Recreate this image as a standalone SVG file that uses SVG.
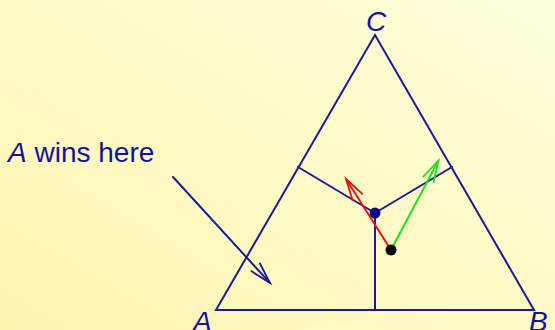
<svg xmlns="http://www.w3.org/2000/svg" width="555" height="330" viewBox="0 0 555 330">
  <defs>
    <linearGradient id="bg" x1="1" y1="0" x2="0" y2="1">
      <stop offset="0" stop-color="#ffffdc"/>
      <stop offset="1" stop-color="#fcf5b0"/>
    </linearGradient>
    <marker id="hBlue" markerUnits="userSpaceOnUse" markerWidth="30" markerHeight="20" viewBox="-24 -10 30 20" refX="0" refY="0" orient="auto">
      <path d="M-22,-6 L0,0 L-22,6" fill="none" stroke="#1c1c8e" stroke-width="1.8"/>
    </marker>
    <marker id="hRed" markerUnits="userSpaceOnUse" markerWidth="30" markerHeight="20" viewBox="-24 -10 30 20" refX="0" refY="0" orient="auto">
      <path d="M-22,-6 L0,0 L-22,6" fill="none" stroke="#ee1111" stroke-width="1.8"/>
    </marker>
    <marker id="hGreen" markerUnits="userSpaceOnUse" markerWidth="30" markerHeight="20" viewBox="-24 -10 30 20" refX="0" refY="0" orient="auto">
      <path d="M-22,-6 L0,0 L-22,6" fill="none" stroke="#22dd22" stroke-width="1.8"/>
    </marker>
  </defs>
  <style>
    .ln { stroke: #1c1c8e; stroke-width: 2; fill: none; stroke-linecap: round; }
    .lbl { font-family: "Liberation Sans", Arial, sans-serif; font-size: 28px; fill: #12129a; }
    .it { font-style: italic; }
  </style>
  <rect width="555" height="330" fill="url(#bg)"/>

  <g id="triangle">
    <polygon class="ln" points="216,310 534,310 375,35" stroke-linejoin="miter"/>
  </g>

  <g id="connectors">
    <line class="ln" x1="375" y1="213" x2="375" y2="310"/>
    <line class="ln" x1="375" y1="213" x2="298" y2="167"/>
    <line class="ln" x1="375" y1="213" x2="452" y2="167"/>
    <line class="ln" x1="173" y1="177" x2="270" y2="283" marker-end="url(#hBlue)"/>
    <line x1="391" y1="250" x2="346" y2="179" stroke="#ee1111" stroke-width="2" marker-end="url(#hRed)"/>
    <line x1="391" y1="250" x2="438.5" y2="160.5" stroke="#22dd22" stroke-width="2" marker-end="url(#hGreen)"/>
  </g>

  <g id="center-point">
    <circle cx="375" cy="213" r="5.5" fill="#0a0a8a"/>
  </g>
  <g id="state-point">
    <circle cx="391" cy="250" r="5.5" fill="#000"/>
  </g>

  <g id="label-C"><text class="lbl it" x="376" y="31" text-anchor="middle">C</text></g>
  <g id="label-A"><text class="lbl it" x="193" y="331">A</text></g>
  <g id="label-B"><text class="lbl it" x="529" y="331">B</text></g>
  <g id="label-wins"><text class="lbl" x="8" y="162"><tspan class="it">A</tspan> wins here</text></g>
</svg>
